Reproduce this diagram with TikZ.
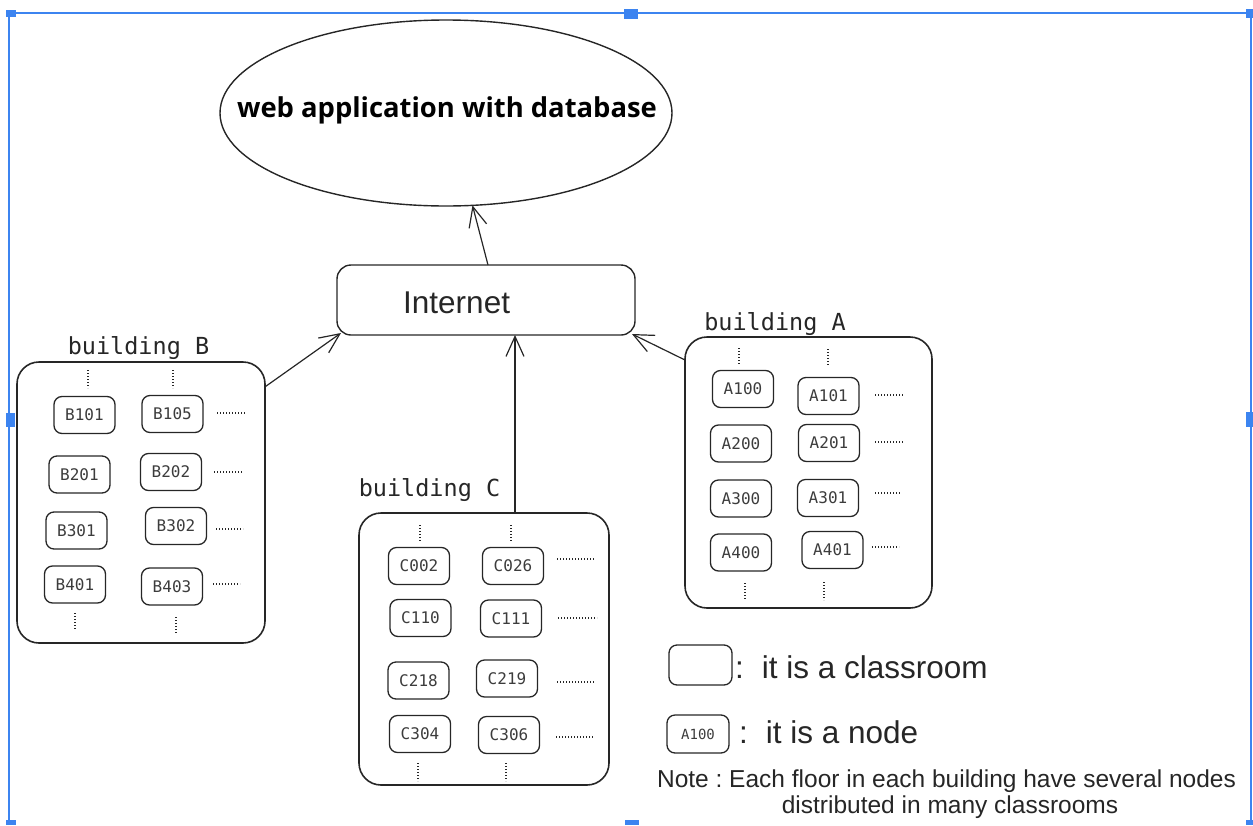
\documentclass[tikz,border=0pt]{standalone}
\usepackage{fontspec}
\setmainfont{Liberation Sans}
\newfontfamily\monof{DejaVu Sans Mono}
\newfontfamily\titlef{Open Sans}
\usetikzlibrary{arrows.meta,calc,shapes.geometric}
\definecolor{selblue}{RGB}{60,132,240}
\definecolor{ink}{RGB}{38,38,38}
\definecolor{txtgray}{RGB}{60,60,60}
\tikzset{
  room/.style={draw=ink, line width=1.3pt, rounded corners=8pt, minimum width=61pt,
    minimum height=37pt, inner sep=0pt, outer sep=0pt,
    font=\monof\fontsize{16}{18}\selectfont, text=txtgray},
  bldg/.style={draw=ink, line width=1.6pt, rounded corners=22pt, inner sep=0pt, outer sep=0pt},
  blabel/.style={font=\monof\fontsize{23.5}{26}\selectfont, text=ink, inner sep=0pt, anchor=base},
  dotline/.style={draw=ink, line width=1.2pt, dash pattern=on 1.4pt off 1.6pt},
  link/.style={draw=ink, line width=1.2pt, -{Straight Barb[length=20pt,width=18pt,line width=1.2pt]}},
  sansbig/.style={font=\fontsize{31.5}{36}\selectfont, text=ink, inner sep=0pt, anchor=base west},
}
\frenchspacing
\begin{document}
\begin{tikzpicture}[x=1pt,y=-1pt]
\useasboundingbox (0,0) rectangle (1253,825);

% selection frame
\draw[selblue, line width=2.2pt] (9,825) -- (9,13) -- (1251,13) -- (1251,825);
\fill[selblue] (6,10) rectangle (16,17);
\fill[selblue] (624,9) rectangle (638,19);
\fill[selblue] (1246,9) rectangle (1253,18);
\fill[selblue] (6,413) rectangle (15,427);
\fill[selblue] (1246,412) rectangle (1253,427);
\fill[selblue] (6,820) rectangle (16,825);
\fill[selblue] (625,820) rectangle (639,825);
\fill[selblue] (1246,820) rectangle (1253,825);

% web application
\node[ellipse, draw=ink, line width=1.4pt, minimum width=452pt, minimum height=186pt,
  inner sep=0pt, outer sep=0pt] (web) at (446,113) {};
\node[font=\titlef\bfseries\fontsize{27.4}{30}\selectfont, text=black, inner sep=0pt]
  (webtxt) at (447,110) {web application with database};

% Internet
\node[draw=ink, line width=1.4pt, rounded corners=14pt, minimum width=298pt, minimum height=70pt,
  inner sep=0pt, outer sep=0pt] (inet) at (486,300) {};
\node[sansbig] (inettxt) at (403,313) {Internet};

% Building B
\node[bldg, minimum width=248pt, minimum height=281pt] (bB) at (141,502.5) {};
\node[blabel] (bBl) at (138.5,354) {building B};
\node[room] (b101) at (84.5,415) {B101};
\node[room] (b105) at (172.5,414) {B105};
\node[room] (b201) at (79.5,474.5) {B201};
\node[room] (b202) at (171,472) {B202};
\node[room] (b301) at (76.5,530.5) {B301};
\node[room] (b302) at (176,526) {B302};
\node[room] (b401) at (75,584.5) {B401};
\node[room] (b403) at (172,586.5) {B403};
\draw[dotline] (88,370) -- (88,388);
\draw[dotline] (173,370) -- (173,388);
\draw[dotline] (75,613) -- (75,630);
\draw[dotline] (176,617) -- (176,634);
\draw[dotline] (217,413) -- (245,413);
\draw[dotline] (214,472) -- (242,472);
\draw[dotline] (216,529) -- (243,529);
\draw[dotline] (213,584) -- (240,584);

% Building C
\node[bldg, minimum width=250pt, minimum height=272pt] (bC) at (484,649) {};
\node[blabel] (bCl) at (429.5,496) {building C};
\node[room] (c002) at (419,566) {C002};
\node[room] (c026) at (513,566) {C026};
\node[room] (c110) at (420.5,618) {C110};
\node[room] (c111) at (511,618.5) {C111};
\node[room] (c218) at (418.5,680.5) {C218};
\node[room] (c219) at (507,678.5) {C219};
\node[room] (c304) at (420,734) {C304};
\node[room] (c306) at (509,735) {C306};
\draw[dotline] (420,525) -- (420,542);
\draw[dotline] (511,525) -- (511,542);
\draw[dotline] (418,763) -- (418,781);
\draw[dotline] (506,763) -- (506,781);
\draw[dotline] (557,559) -- (595,559);
\draw[dotline] (558,618) -- (597,618);
\draw[dotline] (557,682) -- (594,682);
\draw[dotline] (556,737) -- (593,737);

% Building A
\node[bldg, minimum width=247pt, minimum height=271pt] (bA) at (808.5,472.5) {};
\node[blabel] (bAl) at (775,330) {building A};
\node[room] (a100) at (743,389) {A100};
\node[room] (a101) at (828.5,396) {A101};
\node[room] (a200) at (741,443.5) {A200};
\node[room] (a201) at (829,443) {A201};
\node[room] (a300) at (741,498.5) {A300};
\node[room] (a301) at (828,498) {A301};
\node[room] (a400) at (741,552.5) {A400};
\node[room] (a401) at (832.5,550) {A401};
\draw[dotline] (739,348) -- (739,364);
\draw[dotline] (828,349) -- (828,366);
\draw[dotline] (745,583) -- (745,600);
\draw[dotline] (824,582) -- (824,600);
\draw[dotline] (875,395) -- (903,395);
\draw[dotline] (875,442) -- (903,442);
\draw[dotline] (875,493) -- (900,493);
\draw[dotline] (872,547) -- (899,547);

% connectors
\coordinate (cC) at ($(bC.north)+(31,0)$);
\draw[link] (cC) -- (cC |- inet.south);
\draw[link] (bB.43) -- ($(inet.south west)+(4,-2)$);
\draw[link] ($(bA.north west)+(0,23)$) -- ($(inet.south east)+(-3,-1)$);
\draw[link] ($(inet.north)+(2,0)$) -- (web.-74);

% legend
\node[draw=ink, line width=1.3pt, rounded corners=8pt, minimum width=63pt, minimum height=40pt,
  inner sep=0pt, outer sep=0pt] (legroom) at (700.5,665) {};
\node[sansbig] (legroomtxt) at (735,678) {:\hspace{18pt}it is a classroom};
\node[draw=ink, line width=1.3pt, rounded corners=8pt, minimum width=62pt, minimum height=38pt,
  inner sep=0pt, outer sep=0pt, font=\monof\fontsize{14}{16}\selectfont, text=txtgray]
  (legnode) at (698,734) {A100};
\node[sansbig] (legnodetxt) at (739,743) {:\hspace{18pt}it is a node};
\node[font=\fontsize{24.5}{26}\selectfont, text=ink, inner sep=0pt, anchor=base] (note1) at (946.5,787)
  {Note : Each floor in each building have several nodes};
\node[font=\fontsize{24.5}{26}\selectfont, text=ink, inner sep=0pt, anchor=base] (note2) at (950,813)
  {distributed in many classrooms};
\end{tikzpicture}
\end{document}
